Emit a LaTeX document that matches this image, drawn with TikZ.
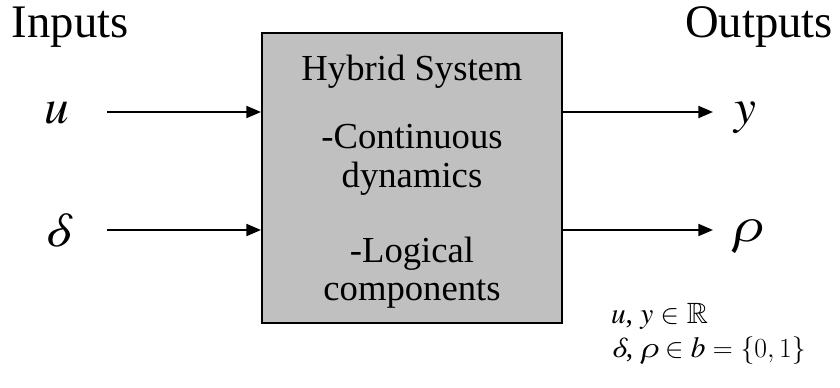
\documentclass[tikz,border=0pt]{standalone}
\usepackage{amssymb}
\usepackage{fontspec}
\setmainfont{Liberation Serif}
\newfontfamily\varfont{texgyretermes-italic.otf}
\usetikzlibrary{arrows.meta}

\tikzset{every picture/.style={line width=1.5pt}}
\tikzset{
  sig/.style={-{Triangle[length=11pt,width=9pt]}},
  title/.style={font=\fontsize{35}{40}\selectfont, inner sep=0pt},
  boxtext/.style={font=\fontsize{27.5}{30}\selectfont, inner sep=0pt},
  var/.style={font=\fontsize{37}{40}\selectfont\varfont, inner sep=0pt},
  sets/.style={font=\fontsize{22}{26}\selectfont, inner sep=0pt}
}

\begin{document}
\begin{tikzpicture}[x=0.75pt,y=0.75pt,yscale=-1,xscale=1]
\path[use as bounding box] (0,0) rectangle (840,387);

%Shape: Rectangle
\node[draw, fill={rgb, 255:red, 192; green, 192; blue, 192}, inner sep=0pt,
  minimum width=225pt, minimum height=217.5pt] (sys) at (412,178) {};

% Text Node
\node[title, anchor=base west] (inputs) at (11,37) {Inputs};
% Text Node
\node[title, anchor=base east] (outputs) at (834,37) {Outputs};

% Text Node
\node[boxtext, anchor=base] (hyb) at (412,80) {Hybrid System};
\node[boxtext, anchor=base] (cont) at (412,148) {-Continuous};
\node[boxtext, anchor=base] (dyn) at (412,187) {dynamics};
\node[boxtext, anchor=base] (logi) at (412,262) {-Logical};
\node[boxtext, anchor=base] (comp) at (412,300) {components};

% Text Node
\node[var, anchor=base] (u) at (57,123) {u};
\node[var, anchor=base] (delta) at (57,246) {δ};
\node[var, anchor=base] (y) at (745,123) {y};
\node[var, anchor=base] (rho) at (747,241) {ρ};

%Straight Lines
\coordinate (uin) at (107,112);
\coordinate (din) at (107,230);
\coordinate (yout) at (713,112);
\coordinate (rout) at (713,230);
\draw[sig] (uin) -- (uin -| sys.west);
\draw[sig] (din) -- (din -| sys.west);
\draw[sig] (yout -| sys.east) -- (yout);
\draw[sig] (rout -| sys.east) -- (rout);

% Text Node
\node[sets, anchor=base west] (set1) at (610,323) {{\varfont u}, {\varfont y} $\in\mathbb{R}$};
\node[sets, anchor=base west] (set2) at (610,357) {{\varfont δ}, {\varfont ρ} $\in$ {\varfont b} $=\{0,1\}$};

\end{tikzpicture}
\end{document}
